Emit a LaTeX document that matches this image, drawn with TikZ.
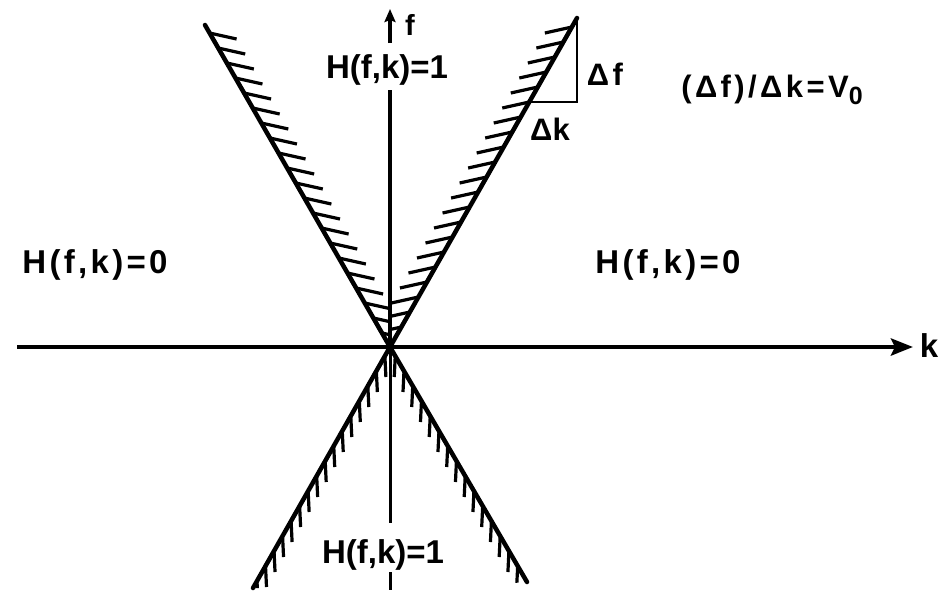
\documentclass[tikz,border=0pt]{standalone}
\usepackage{fontspec}
\setmainfont{Liberation Sans}
\usetikzlibrary{arrows.meta}
\begin{document}
\begin{tikzpicture}[x=1pt,y=-1pt,
  lbl/.style={inner sep=0pt, anchor=base, font=\fontsize{33}{40}\selectfont\bfseries},
  widelbl/.style={inner sep=0pt, anchor=base, font=\fontsize{33}{40}\selectfont\bfseries\addfontfeature{LetterSpace=10}},
  smalllbl/.style={inner sep=0pt, anchor=base, font=\fontsize{31}{38}\selectfont\bfseries\addfontfeature{LetterSpace=11}},
  axisline/.style={line width=4.5pt},
  thinaxis/.style={line width=3pt},
  coneline/.style={line width=4.5pt, line cap=round},
  hatchline/.style={line width=3.2pt},
  triline/.style={line width=2.5pt}]
\useasboundingbox (0,0) rectangle (940,590);

% key points
\coordinate (O) at (390,347);
\coordinate (kL) at (17,347);
\coordinate (kR) at (913,347);
\coordinate (fTip) at (390,9);
\coordinate (fBase) at (390,43);
\coordinate (fMid) at (390,90);
\coordinate (fLow) at (390,523);
\coordinate (stubA) at (390,572);
\coordinate (stubB) at (390,590);
\coordinate (ULtop) at (205,25);
\coordinate (URtop) at (577,18);
\coordinate (LLend) at (253,588);
\coordinate (LRend) at (527,582);
\coordinate (TB) at (577,102);
\coordinate (TC) at (529,102);

% hatching upper-left
\begin{scope}
\clip (O) -- (ULtop) -- (390,20) -- cycle;
\foreach \i in {0,...,20}{
  \pgfmathsetmacro\yy{33+15*\i}
  \pgfmathsetmacro\xx{390-(347-\yy)/322*185}
  \draw[hatchline] (\xx,\yy) -- ++(27,6);
}
\end{scope}
% hatching upper-right
\begin{scope}
\clip (O) -- (URtop) -- (390,15) -- cycle;
\foreach \i in {0,...,20}{
  \pgfmathsetmacro\yy{27+15*\i}
  \pgfmathsetmacro\xx{390+(347-\yy)/329*187}
  \draw[hatchline] (\xx,\yy) -- ++(-27,6);
}
\end{scope}
% hatching lower-left
\begin{scope}
\clip (O) -- (LLend) -- (390,592) -- cycle;
\foreach \i in {0,...,15}{
  \pgfmathsetmacro\yy{356+15*\i}
  \pgfmathsetmacro\xx{390-(\yy-347)/241*137}
  \draw[hatchline] (\xx,\yy) -- ++(1,21);
}
\end{scope}
% hatching lower-right
\begin{scope}
\clip (O) -- (LRend) -- (390,592) -- cycle;
\foreach \i in {0,...,15}{
  \pgfmathsetmacro\yy{356+15*\i}
  \pgfmathsetmacro\xx{390+(\yy-347)/235*137}
  \draw[hatchline] (\xx,\yy) -- ++(-1,21);
}
\end{scope}

% cone lines
\draw[coneline] (ULtop) -- (O) -- (URtop);
\draw[coneline] (LLend) -- (O) -- (LRend);

% axes
\draw[axisline, -{Stealth[length=22pt,width=17pt,inset=4pt]}] (kL) -- (kR);
\draw[axisline] (fMid) -- (O);
\draw[thinaxis] (O) -- (fLow);
\draw[thinaxis] (stubA) -- (stubB);
\draw[line width=3.5pt, -{Stealth[length=13pt,width=11pt,inset=2pt]}] (fBase) -- (fTip);

% slope triangle
\draw[triline] (URtop) -- (TB) -- (TC);

% labels
\node[lbl, font=\fontsize{29}{36}\selectfont\bfseries] (flab) at (410,35) {f};
\node[lbl] (ktext) at (929,357) {k};
\node[lbl] (Htop) at (387,78) {H(f,k)=1};
\node[lbl] (Hbot) at (383,563) {H(f,k)=1};
\node[widelbl] (Hleft) at (95,273) {H(f,k)=0};
\node[widelbl] (Hright) at (668,273) {H(f,k)=0};
\node[smalllbl] (df) at (605,85) {Δf};
\node[lbl, font=\fontsize{31}{38}\selectfont\bfseries] (dk) at (550,140) {Δk};
\node[smalllbl] (vel) at (772,97) {(Δf)/Δk=V\raisebox{-7pt}{\fontsize{25}{30}\selectfont\bfseries 0}};
\end{tikzpicture}
\end{document}
